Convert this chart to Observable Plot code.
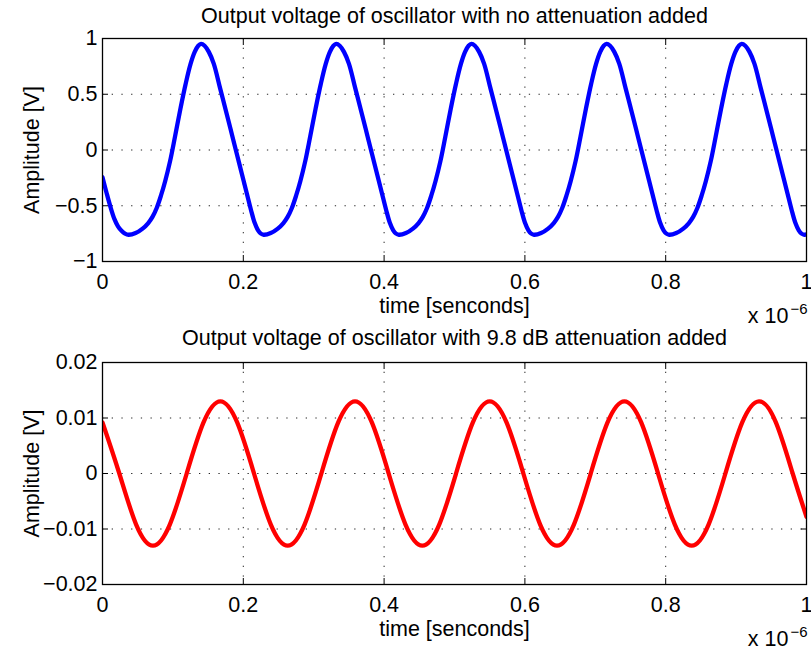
<!DOCTYPE html>
<html>
<head>
<meta charset="utf-8">
<script src="https://cdn.jsdelivr.net/npm/d3@7"></script>
<script src="https://cdn.jsdelivr.net/npm/@observablehq/plot@0.6"></script>
<style>
  html, body { margin: 0; padding: 0; background: #fff; }
  #chart { width: 811px; height: 652px; }
  #chart svg { display: block; }
</style>
</head>
<body>
<div id="chart"></div>
<script>
// ---------- data (time in units of 1e-6 s) ----------
const xTicks = [0, 0.2, 0.4, 0.6, 0.8, 1];
const topYTicks = [-1, -0.5, 0, 0.5, 1];
const bottomYTicks = [-0.02, -0.01, 0, 0.01, 0.02];

const topTitle = "Output voltage of oscillator with no attenuation added";
const bottomTitle = "Output voltage of oscillator with 9.8 dB attenuation added";
const xLabel = "time [senconds]";
const yLabel = "Amplitude [V]";
const scaleLabel = "x 10";
const scaleExp = "\u22126";

const blueTime = [
  0, 0.006, 0.012, 0.017, 0.022, 0.027, 0.032,
  0.037, 0.047, 0.057, 0.065, 0.071, 0.077, 0.083, 0.089, 0.096, 0.103, 0.111, 0.118, 0.125, 0.131, 0.136,
  0.140, 0.145, 0.151, 0.158, 0.167, 0.177, 0.184, 0.191, 0.198, 0.205, 0.211, 0.216, 0.221, 0.225,
  0.229, 0.239, 0.249, 0.257, 0.263, 0.269, 0.275, 0.281, 0.288, 0.295, 0.303, 0.310, 0.317, 0.323, 0.328,
  0.332, 0.337, 0.343, 0.350, 0.359, 0.369, 0.376, 0.383, 0.390, 0.397, 0.403, 0.408, 0.413, 0.417,
  0.421, 0.431, 0.441, 0.449, 0.455, 0.461, 0.467, 0.473, 0.480, 0.487, 0.495, 0.502, 0.509, 0.515, 0.520,
  0.524, 0.529, 0.535, 0.542, 0.551, 0.561, 0.568, 0.575, 0.582, 0.589, 0.595, 0.600, 0.605, 0.609,
  0.613, 0.623, 0.633, 0.641, 0.647, 0.653, 0.659, 0.665, 0.672, 0.679, 0.687, 0.694, 0.701, 0.707, 0.712,
  0.716, 0.721, 0.727, 0.734, 0.743, 0.753, 0.760, 0.767, 0.774, 0.781, 0.787, 0.792, 0.797, 0.801,
  0.805, 0.815, 0.825, 0.833, 0.839, 0.845, 0.851, 0.857, 0.864, 0.871, 0.879, 0.886, 0.893, 0.899, 0.904,
  0.908, 0.913, 0.919, 0.926, 0.935, 0.945, 0.952, 0.959, 0.966, 0.973, 0.979, 0.984, 0.989, 0.993,
  0.997, 1.0
];
const blueAmp = [
  -0.244, -0.39, -0.525, -0.62, -0.685, -0.725, -0.75,
  -0.76, -0.745, -0.705, -0.655, -0.60, -0.52, -0.41, -0.28, -0.10, 0.12, 0.38, 0.59, 0.77, 0.88, 0.935,
  0.952, 0.935, 0.88, 0.775, 0.555, 0.31, 0.135, -0.04, -0.215, -0.39, -0.54, -0.65, -0.72, -0.75,
  -0.76, -0.745, -0.705, -0.655, -0.60, -0.52, -0.41, -0.28, -0.10, 0.12, 0.38, 0.59, 0.77, 0.88, 0.935,
  0.952, 0.935, 0.88, 0.775, 0.555, 0.31, 0.135, -0.04, -0.215, -0.39, -0.54, -0.65, -0.72, -0.75,
  -0.76, -0.745, -0.705, -0.655, -0.60, -0.52, -0.41, -0.28, -0.10, 0.12, 0.38, 0.59, 0.77, 0.88, 0.935,
  0.952, 0.935, 0.88, 0.775, 0.555, 0.31, 0.135, -0.04, -0.215, -0.39, -0.54, -0.65, -0.72, -0.75,
  -0.76, -0.745, -0.705, -0.655, -0.60, -0.52, -0.41, -0.28, -0.10, 0.12, 0.38, 0.59, 0.77, 0.88, 0.935,
  0.952, 0.935, 0.88, 0.775, 0.555, 0.31, 0.135, -0.04, -0.215, -0.39, -0.54, -0.65, -0.72, -0.75,
  -0.76, -0.745, -0.705, -0.655, -0.60, -0.52, -0.41, -0.28, -0.10, 0.12, 0.38, 0.59, 0.77, 0.88, 0.935,
  0.952, 0.935, 0.88, 0.775, 0.555, 0.31, 0.135, -0.04, -0.215, -0.39, -0.54, -0.65, -0.72, -0.75,
  -0.76, -0.757
];

const redTime = [
  0, 0.0239, 0.0478, 0.0717, 0.0956, 0.1196, 0.1435, 0.1674,
  0.1913, 0.2152, 0.2391, 0.2630, 0.2870, 0.3109, 0.3348, 0.3587,
  0.3826, 0.4065, 0.4304, 0.4543, 0.4783, 0.5022, 0.5261, 0.5500,
  0.5739, 0.5978, 0.6217, 0.6456, 0.6696, 0.6935, 0.7174, 0.7413,
  0.7652, 0.7891, 0.8130, 0.8369, 0.8609, 0.8848, 0.9087, 0.9326,
  0.9565, 0.9804, 1.0
];
const redAmp = [
  0.0092, 0, -0.0092, -0.013, -0.0092, 0, 0.0092, 0.013,
  0.0092, 0, -0.0092, -0.013, -0.0092, 0, 0.0092, 0.013,
  0.0092, 0, -0.0092, -0.013, -0.0092, 0, 0.0092, 0.013,
  0.0092, 0, -0.0092, -0.013, -0.0092, 0, 0.0092, 0.013,
  0.0092, 0, -0.0092, -0.013, -0.0092, 0, 0.0092, 0.013,
  0.0092, 0, -0.0078
];

const blueData = blueTime.map((t, i) => ({t, v: blueAmp[i]}));
const redData = redTime.map((t, i) => ({t, v: redAmp[i]}));

// ---------- drawing ----------
const FONT = "'Liberation Sans', Arial, Helvetica, sans-serif";
const FS = 21.5;
const fmt = d3.format("~g");

function panel({data, color, yDomain, yTicks, title, marginTop, marginBottom, titleDy, curve}) {
  return Plot.plot({
    width: 811,
    height: 326,
    marginLeft: 102,
    marginRight: 5,
    marginTop,
    marginBottom,
    style: {fontFamily: FONT, fontSize: FS + "px", color: "#000", background: "#fff", overflow: "visible"},
    x: {domain: [0, 1]},
    y: {domain: yDomain},
    marks: [
      Plot.gridX(xTicks, {stroke: "#000", strokeOpacity: 0.85, strokeWidth: 1, strokeDasharray: "1.3,8.4"}),
      Plot.gridY(yTicks, {stroke: "#000", strokeOpacity: 0.85, strokeWidth: 1, strokeDasharray: "1.3,8.4"}),
      Plot.line(data, {x: "t", y: "v", stroke: color, strokeWidth: 4.3, curve, clip: true, strokeLinejoin: "round"}),
      // inward tick marks on all four sides
      Plot.axisX(xTicks, {anchor: "bottom", tickSize: -6, tickFormat: () => "", label: null, stroke: "#000"}),
      Plot.axisX(xTicks, {anchor: "top", tickSize: -6, tickFormat: () => "", label: null, stroke: "#000"}),
      Plot.axisY(yTicks, {anchor: "left", tickSize: -6, tickFormat: () => "", label: null, stroke: "#000"}),
      Plot.axisY(yTicks, {anchor: "right", tickSize: -6, tickFormat: () => "", label: null, stroke: "#000"}),
      // tick labels
      Plot.axisX(xTicks, {anchor: "bottom", tickSize: 0, tickPadding: 12, tickFormat: fmt, label: null, fontSize: FS}),
      Plot.axisY(yTicks, {anchor: "left", tickSize: 0, tickPadding: 5, tickFormat: fmt, label: null, fontSize: FS}),
      Plot.frame({stroke: "#000", strokeWidth: 1.3}),
      // titles and labels
      Plot.text([title], {text: d => d, frameAnchor: "top", dy: titleDy, lineAnchor: "bottom", fontSize: FS, fill: "#000"}),
      Plot.text([xLabel], {text: d => d, frameAnchor: "bottom", dy: 51.5, lineAnchor: "bottom", fontSize: FS, fill: "#000"}),
      Plot.text([yLabel], {text: d => d, frameAnchor: "left", dx: -63.5, rotate: -90, lineAnchor: "bottom", textAnchor: "middle", fontSize: FS, fill: "#000"}),
      Plot.text([scaleLabel], {text: d => d, frameAnchor: "bottom-right", dx: -18, dy: 61, lineAnchor: "bottom", textAnchor: "end", fontSize: FS, fill: "#000"}),
      Plot.text([scaleExp], {text: d => d, frameAnchor: "bottom-right", dx: -16, dy: 52, lineAnchor: "bottom", textAnchor: "start", fontSize: 15, fill: "#000"})
    ]
  });
}

const chart = document.getElementById("chart");
chart.append(panel({
  data: blueData, color: "#0000ff", yDomain: [-1, 1], yTicks: topYTicks, title: topTitle,
  marginTop: 38, marginBottom: 65, titleDy: -15.6, curve: "catmull-rom"
}));
chart.append(panel({
  data: redData, color: "#ff0000", yDomain: [-0.02, 0.02], yTicks: bottomYTicks, title: bottomTitle,
  marginTop: 36, marginBottom: 68, titleDy: -17.7, curve: "natural"
}));
</script>
</body>
</html>
